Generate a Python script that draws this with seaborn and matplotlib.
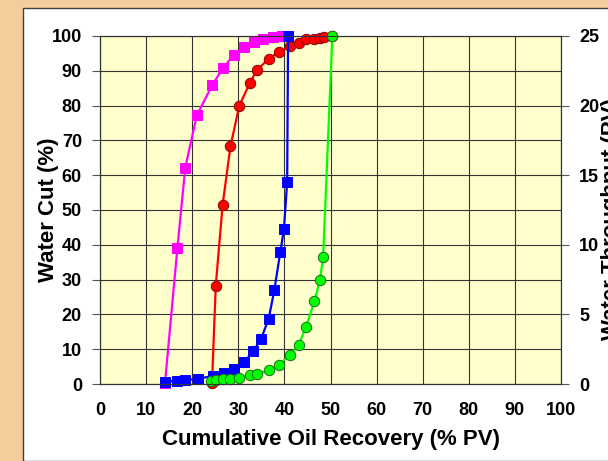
import matplotlib
matplotlib.use("Agg")
import matplotlib.pyplot as plt
from matplotlib.patches import Rectangle
import seaborn as sns
import pandas as pd

# ---- data ----
magenta_x = [14.1, 16.8, 18.5, 21.0, 24.4, 26.7, 29.0, 31.3, 33.3, 35.4, 37.5, 39.5]
magenta_y = [0.3, 39.2, 62.2, 77.2, 86.0, 90.8, 94.5, 96.8, 98.3, 99.1, 99.7, 99.9]

red_x = [24.3, 25.1, 26.6, 28.3, 30.2, 32.5, 34.0, 36.6, 38.8, 41.2, 43.1, 44.7, 46.4, 47.8, 48.6, 50.4]
red_y = [0.2, 28.1, 51.5, 68.3, 79.9, 86.5, 90.1, 93.5, 95.4, 97.0, 98.1, 99.0, 99.2, 99.5, 99.6, 99.9]

blue_x = [14.1, 16.8, 18.5, 21.2, 24.5, 26.8, 29.0, 31.3, 33.2, 34.9, 36.6, 37.8, 39.1, 39.9, 40.6, 40.8]
blue_y = [0.6, 1.0, 1.1, 1.5, 2.3, 3.3, 4.4, 6.3, 9.4, 12.8, 18.8, 26.9, 37.8, 44.5, 58.0, 100.0]

green_x = [24.1, 25.2, 26.7, 28.3, 30.2, 32.5, 34.1, 36.6, 38.8, 41.2, 43.1, 44.7, 46.5, 47.7, 48.4, 50.4]
green_y = [1.0, 1.2, 1.3, 1.5, 1.8, 2.5, 3.0, 3.9, 5.6, 8.2, 11.3, 16.4, 23.8, 29.8, 36.5, 100.0]

x_ticks = [0, 10, 20, 30, 40, 50, 60, 70, 80, 90, 100]
y_ticks = [0, 10, 20, 30, 40, 50, 60, 70, 80, 90, 100]
y2_ticks = [0, 5, 10, 15, 20, 25]

sns.set_theme(style="white")
plt.rcParams['font.family'] = ['Liberation Sans', 'DejaVu Sans']
plt.rcParams['text.color'] = 'black'
plt.rcParams['axes.labelcolor'] = 'black'
plt.rcParams['xtick.labelcolor'] = 'black'
plt.rcParams['ytick.labelcolor'] = 'black'

fig = plt.figure(figsize=(6.08, 4.61), dpi=100)
fig.patch.set_facecolor('#F5CC9B')
# white panel
panel = Rectangle((23/608, 0), 1, (461-8)/461, transform=fig.transFigure,
                  facecolor='white', edgecolor='#404040', linewidth=1.0, zorder=-10)
fig.add_artist(panel)

ax = fig.add_axes([100/608, (461-384)/461, 461/608, 348/461])
ax.set_facecolor('#FFFFCC')

series = [
    (magenta_x, magenta_y, '#FF00FF', 's', '#FF00FF'),
    (red_x, red_y, '#FF0000', 'o', '#8B0000'),
    (blue_x, blue_y, '#0000FF', 's', '#0000FF'),
    (green_x, green_y, '#00FF00', 'o', '#1E6B1E'),
]
for i, (xs, ys, col, mk, ec) in enumerate(series):
    df = pd.DataFrame({'x': xs, 'y': ys})
    sns.lineplot(data=df, x='x', y='y', ax=ax, sort=False, estimator=None,
                 color=col, marker=mk, markersize=7.5, markeredgecolor=ec,
                 markeredgewidth=0.7, linewidth=1.6, zorder=3 + i, clip_on=False)

ax.set_xlim(0, 100)
ax.set_ylim(0, 100)
ax.set_xticks(x_ticks)
ax.set_yticks(y_ticks)
ax.grid(True, color='#333333', linewidth=0.8)
ax.set_axisbelow(True)
for s in ax.spines.values():
    s.set_visible(True)
    s.set_color('#333333')
    s.set_linewidth(0.8)
ax.tick_params(axis='both', direction='out', length=6, width=0.8, color='#555555',
               labelsize=13, pad=7)
for lab in ax.get_xticklabels() + ax.get_yticklabels():
    lab.set_fontweight('bold')
ax.set_xlabel('Cumulative Oil Recovery (% PV)', fontsize=16, fontweight='bold')
ax.set_ylabel('Water Cut (%)', fontsize=16, fontweight='bold')
ax.xaxis.set_label_coords(0.5, -0.128)
ax.yaxis.set_label_coords(-0.09, 0.5)

ax2 = ax.twinx()
ax2.set_ylim(0, 25)
ax2.set_yticks(y2_ticks)
ax2.tick_params(axis='y', direction='out', length=6, width=0.8, color='#555555',
                labelsize=13, pad=7, right=True)
for lab in ax2.get_yticklabels():
    lab.set_fontweight('bold')
ax2.grid(False)
for s in ax2.spines.values():
    s.set_color('#333333')
    s.set_linewidth(0.8)

fig.text(601/608, (461-219)/461, 'Water Throughput (PV)', rotation=90, ha='left', va='center',
         fontsize=16, fontweight='bold')

fig.savefig('out.png', dpi=100, facecolor=fig.get_facecolor())
